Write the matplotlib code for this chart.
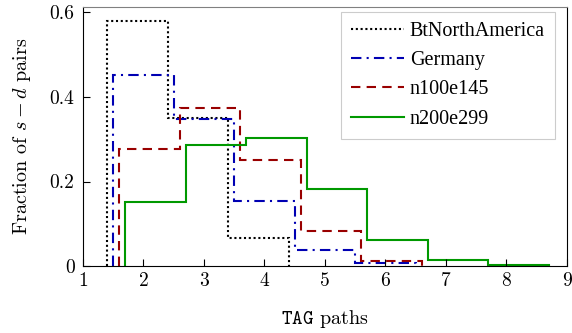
import numpy as np
import matplotlib
matplotlib.use('Agg')
import matplotlib.pyplot as plt

plt.rcParams['mathtext.fontset'] = 'cm'
plt.rcParams['font.family'] = ['cmr10', 'DejaVu Serif']
plt.rcParams['axes.formatter.use_mathtext'] = True

# bin edges (TAG paths, each series shifted a little) and fractions
btEdges = [1.4, 2.4, 3.4, 4.4]
btVals = [0.58, 0.351, 0.066]

deEdges = [1.5, 2.5, 3.5, 4.5, 5.5, 6.5]
deVals = [0.451, 0.349, 0.155, 0.038, 0.007]

n100Edges = [1.6, 2.6, 3.6, 4.6, 5.6, 6.6]
n100Vals = [0.277, 0.375, 0.252, 0.083, 0.012]

n200Edges = [1.7, 2.7, 3.7, 4.7, 5.7, 6.7, 7.7, 8.7]
n200Vals = [0.151, 0.286, 0.303, 0.182, 0.0615, 0.0135, 0.003]

xTicks = [1, 2, 3, 4, 5, 6, 7, 8, 9]
yTicks = [0, 0.2, 0.4, 0.6]
yTickLabels = ['0', '0.2', '0.4', '0.6']

fig = plt.figure(figsize=(5.72, 3.33), dpi=100)
ax = fig.add_axes([0.145, 0.201, 0.846, 0.777])

ax.stairs(btVals, btEdges, baseline=0, color='black', lw=1.5,
          linestyle=(0, (1, 1.3)), label='BtNorthAmerica')
ax.stairs(deVals, deEdges, baseline=0, color='#0000b3', lw=1.5,
          linestyle=(0, (5, 2.5, 1, 2.5)), label='Germany')
ax.stairs(n100Vals, n100Edges, baseline=0, color='#990000', lw=1.5,
          linestyle=(0, (4.5, 3)), label='n100e145')
ax.stairs(n200Vals, n200Edges, baseline=0, color='#009900', lw=1.5,
          linestyle='-', label='n200e299')

ax.set_xlim(1, 9)
ax.set_ylim(0, 0.612)
ax.set_xticks(xTicks)
ax.set_xticklabels([str(t) for t in xTicks])
ax.set_yticks(yTicks)
ax.set_yticklabels(yTickLabels)
ax.tick_params(direction='in', length=5, width=0.8, labelsize=14, pad=4)
ax.tick_params(axis='y', pad=6)
ax.spines['top'].set_color('#808080')

ax.set_xlabel(r'$\mathtt{TAG}$ paths', fontsize=14.5, labelpad=13)
ax.set_ylabel(r'Fraction of $s-d$ pairs', fontsize=14.5, labelpad=12)

leg = ax.legend(loc='upper right', handlelength=2.6,
                handletextpad=0.3, borderpad=0.5, labelspacing=0.5,
                borderaxespad=0,
                fancybox=False, framealpha=1, edgecolor='#cccccc',
                prop={'family': 'Liberation Serif', 'size': 14.5},
                bbox_to_anchor=(0.975, 0.982))
leg.get_frame().set_linewidth(0.8)

fig.savefig('out.png', dpi=100)
